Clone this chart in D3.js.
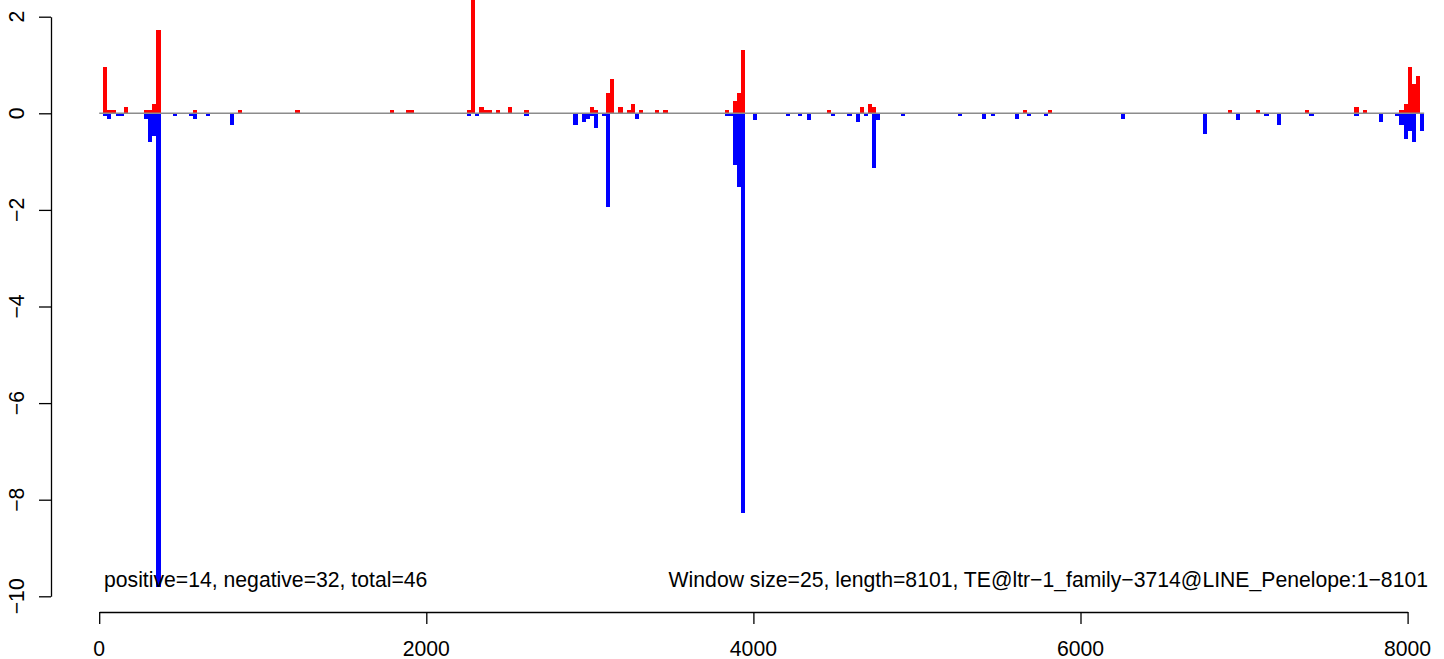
<!DOCTYPE html>
<html>
<head>
<meta charset="utf-8">
<script src="https://cdn.jsdelivr.net/npm/d3@7"></script>
<style>
  html, body { margin: 0; padding: 0; background: #fff; }
  svg { display: block; }
  text { font-family: "Liberation Sans", Arial, Helvetica, sans-serif; }
</style>
</head>
<body>
<svg id="chart" width="1444" height="659"></svg>
<script>
// Window size 25: start positions and values
const posStart = [25,50,75,150,275,300,325,350,575,850,1200,1775,1875,1900,2250,2275,2325,2350,2375,2425,2500,2600,3000,3025,3100,3125,3175,3225,3250,3300,3400,3450,3825,3875,3900,3925,4450,4650,4700,4725,5650,5800,6900,7075,7375,7675,7725,7950,7975,8000,8025,8050];
const posVal   = [0.96,0.07,0.07,0.14,0.07,0.07,0.19,1.72,0.07,0.07,0.07,0.07,0.07,0.07,0.07,3.2,0.13,0.07,0.07,0.07,0.13,0.07,0.13,0.07,0.42,0.71,0.13,0.07,0.19,0.07,0.07,0.07,0.07,0.25,0.42,1.31,0.07,0.13,0.19,0.13,0.07,0.07,0.06,0.06,0.06,0.13,0.06,0.06,0.19,0.96,0.6,0.77];

const negStart = [25,50,100,125,275,300,325,350,450,550,575,650,800,2250,2300,2600,2900,2950,2975,3000,3025,3075,3100,3275,3825,3850,3875,3900,3925,4000,4200,4275,4325,4475,4575,4625,4675,4725,4750,4900,5250,5400,5450,5600,5675,5775,6250,6750,6950,7125,7200,7400,7675,7825,7925,7950,7975,8000,8025,8075];
const negVal   = [-0.05,-0.11,-0.05,-0.05,-0.12,-0.6,-0.46,-9.8,-0.05,-0.05,-0.11,-0.05,-0.24,-0.05,-0.05,-0.05,-0.24,-0.17,-0.11,-0.05,-0.3,-0.05,-1.95,-0.11,-0.06,-0.06,-1.07,-1.53,-8.27,-0.14,-0.06,-0.06,-0.14,-0.06,-0.06,-0.18,-0.06,-1.14,-0.14,-0.05,-0.05,-0.12,-0.05,-0.12,-0.05,-0.05,-0.12,-0.42,-0.13,-0.06,-0.25,-0.06,-0.06,-0.19,-0.06,-0.25,-0.54,-0.37,-0.6,-0.37];

const windowSize = 25;
const seqLength = 8101;
const xTicks = [0, 2000, 4000, 6000, 8000];
const yTicks = [-10, -8, -6, -4, -2, 0, 2];
const leftNote = "positive=14, negative=32, total=46";
const rightNote = "Window size=25, length=8101, TE@ltr\u22121_family\u22123714@LINE_Penelope:1\u22128101";

const svg = d3.select("#chart");
const W = 1444, H = 659;
svg.append("rect").attr("width", W).attr("height", H).attr("fill", "#fff");

const x = d3.scaleLinear().domain([0, 8000]).range([99.2, 1407.6]);
const y = d3.scaleLinear().domain([-10, 2]).range([596.3, 16.7]);
const axisY = 612;   // bottom of plot region
const axisX = 51;    // left of plot region
const fs = 21.2;

const bars = svg.append("g").attr("shape-rendering", "crispEdges");
const posData = posStart.map((s, i) => ({s, v: posVal[i]}));
const negData = negStart.map((s, i) => ({s, v: negVal[i]}));

bars.selectAll("rect.pos").data(posData).join("rect")
  .attr("class", "pos")
  .attr("x", d => x(d.s))
  .attr("width", d => x(d.s + windowSize) - x(d.s))
  .attr("y", d => y(d.v))
  .attr("height", d => y(0) - y(d.v))
  .attr("fill", "#ff0000");

bars.selectAll("rect.neg").data(negData).join("rect")
  .attr("class", "neg")
  .attr("x", d => x(d.s))
  .attr("width", d => x(d.s + windowSize) - x(d.s))
  .attr("y", y(0))
  .attr("height", d => y(d.v) - y(0))
  .attr("fill", "#0000ff");

// zero line
svg.append("line")
  .attr("x1", x(0)).attr("x2", x(seqLength))
  .attr("y1", y(0)).attr("y2", y(0))
  .attr("stroke", "#8c8c8c").attr("stroke-width", 1.5);

// x axis
const gx = svg.append("g").attr("transform", `translate(0,${axisY})`)
  .call(d3.axisBottom(x).tickValues(xTicks).tickSize(12).tickSizeOuter(0).tickFormat(""));
gx.selectAll("path, line").attr("stroke", "#000").attr("stroke-width", 1.3);
gx.selectAll("text").remove();
svg.append("g").selectAll("text").data(xTicks).join("text")
  .attr("x", d => x(d)).attr("y", axisY + 44)
  .attr("text-anchor", "middle").attr("font-size", fs).attr("fill", "#000")
  .text(d => d3.format("d")(d));

// y axis
const gy = svg.append("g").attr("transform", `translate(${axisX},0)`)
  .call(d3.axisLeft(y).tickValues(yTicks).tickSize(12).tickSizeOuter(0).tickFormat(""));
gy.selectAll("path, line").attr("stroke", "#000").attr("stroke-width", 1.3);
gy.selectAll("text").remove();
svg.append("g").selectAll("text").data(yTicks).join("text")
  .attr("transform", d => `translate(24,${y(d)}) rotate(-90)`)
  .attr("text-anchor", "middle").attr("font-size", fs).attr("fill", "#000")
  .text(d => (d < 0 ? "\u2212" + Math.abs(d) : String(d)));

// annotations
svg.append("text").attr("x", 104).attr("y", 587)
  .attr("font-size", fs).attr("fill", "#000").text(leftNote);
svg.append("text").attr("x", 1428).attr("y", 587)
  .attr("text-anchor", "end").attr("font-size", fs).attr("fill", "#000").text(rightNote);
</script>
</body>
</html>
